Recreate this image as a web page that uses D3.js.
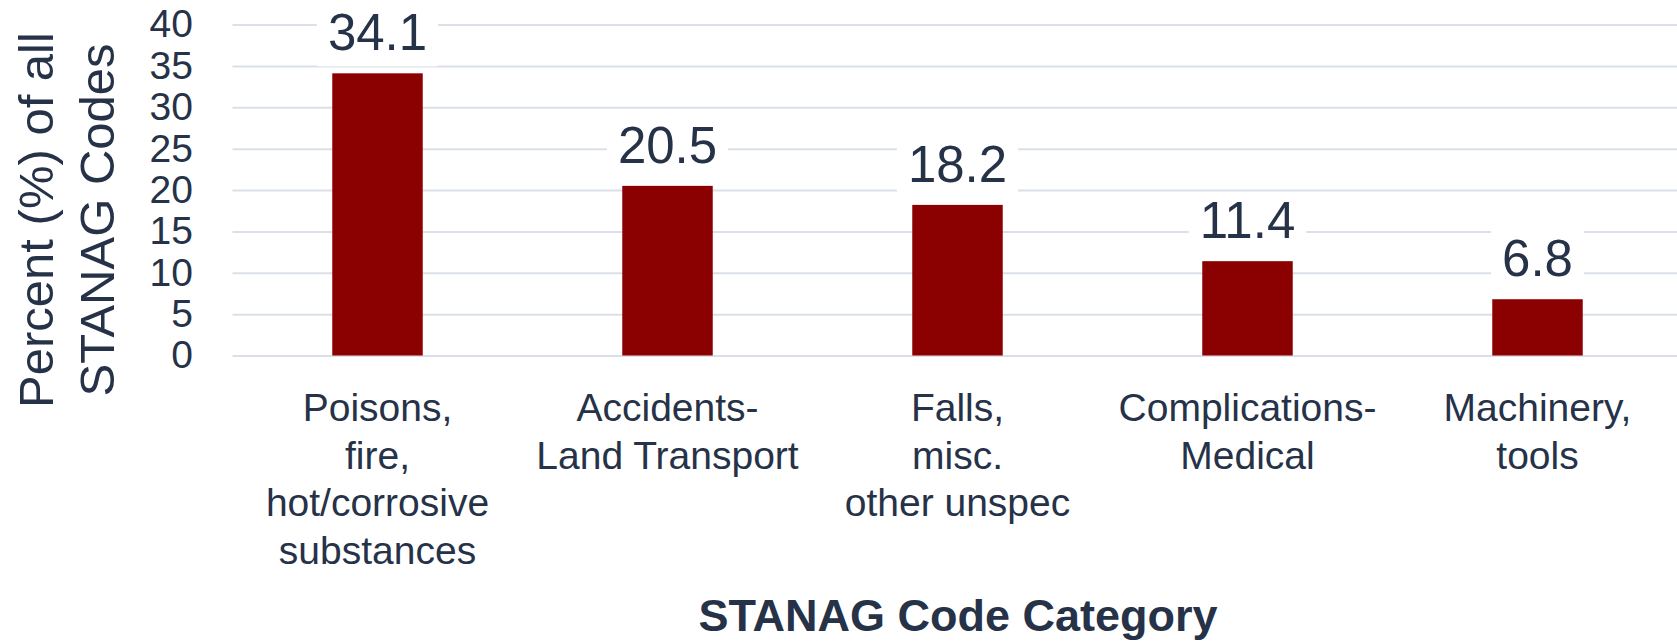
<!DOCTYPE html>
<html>
<head>
<meta charset="utf-8">
<script src="https://cdn.jsdelivr.net/npm/d3@7"></script>
<style>
  html, body { margin: 0; padding: 0; background: #fff; }
  svg { display: block; font-family: "Liberation Sans", Arial, sans-serif; }
</style>
</head>
<body>
<svg id="drawing_region"></svg>
<script>
// data
const categories = [
    "Poisons,\nfire,\nhot/corrosive\nsubstances",
    "Accidents-\nLand Transport",
    "Falls,\nmisc.\nother unspec",
    "Complications-\nMedical",
    "Machinery,\ntools"
];
const values = [34.1, 20.5, 18.2, 11.4, 6.8];
const yTicks = [0, 5, 10, 15, 20, 25, 30, 35, 40];
const xTitle = "STANAG Code Category";
const yTitle = ["Percent (%) of all", "STANAG Codes"];

const data = categories.map((c, i) => ({ label: c, value: values[i] }));

const width = 1677, height = 642;
const textColor = "#263248";
const margin = { left: 232.5, right: 1682.5, top: 24.5, bottom: 355.5 };

const svg = d3.select("#drawing_region")
    .attr("width", width)
    .attr("height", height);

const x = d3.scaleBand()
    .domain(categories)
    .range([margin.left, margin.right])
    .paddingInner(0.688)
    .paddingOuter(0.344);

const y = d3.scaleLinear()
    .domain([0, 40])
    .range([margin.bottom, margin.top]);

// y axis + gridlines
const yAxis = svg.append("g")
    .attr("transform", `translate(${margin.left},0)`)
    .call(d3.axisLeft(y)
        .tickValues(yTicks)
        .tickSizeInner(-(width - margin.left))
        .tickSizeOuter(0)
        .tickPadding(margin.left - 193));
yAxis.select(".domain").remove();
yAxis.selectAll(".tick line")
    .attr("stroke", "#dadfe8")
    .attr("stroke-width", 2);
yAxis.selectAll(".tick text")
    .attr("fill", textColor)
    .attr("font-size", 39)
    .attr("font-family", "Liberation Sans, Arial, sans-serif");

// bars
svg.append("g")
    .selectAll("rect")
    .data(data)
    .join("rect")
    .attr("x", d => x(d.label))
    .attr("y", d => y(d.value))
    .attr("width", x.bandwidth())
    .attr("height", d => y(0) - y(d.value))
    .attr("fill", "#8b0000");

// value labels with white boxes
const lab = svg.append("g")
    .selectAll("g")
    .data(data)
    .join("g")
    .attr("transform", d => `translate(${x(d.label) + x.bandwidth() / 2},${y(d.value) - 23})`);

lab.append("rect").attr("fill", "#fff");
lab.append("text")
    .attr("text-anchor", "middle")
    .attr("font-size", 51)
    .attr("fill", textColor)
    .text(d => d.value.toFixed(1));
lab.each(function () {
    const g = d3.select(this);
    const w = g.select("text").node().getComputedTextLength() + 22;
    g.select("rect")
        .attr("x", -w / 2)
        .attr("y", -46)
        .attr("width", w)
        .attr("height", 62);
});

// category labels
const xAxis = svg.append("g")
    .attr("transform", `translate(0,${margin.bottom})`)
    .call(d3.axisBottom(x).tickSize(0).tickFormat(""));
xAxis.select(".domain").remove();
xAxis.selectAll(".tick text").remove();
xAxis.selectAll(".tick")
    .append("text")
    .attr("text-anchor", "middle")
    .attr("font-size", 39)
    .attr("fill", textColor)
    .selectAll("tspan")
    .data(d => d.split("\n"))
    .join("tspan")
    .attr("x", 0)
    .attr("y", (d, i) => 421 - margin.bottom + i * 47.5)
    .text(d => d);

// axis titles
svg.append("text")
    .attr("x", 958)
    .attr("y", 631)
    .attr("text-anchor", "middle")
    .attr("font-size", 45)
    .attr("font-weight", "bold")
    .attr("fill", textColor)
    .text(xTitle);

svg.append("g")
    .selectAll("text")
    .data(yTitle)
    .join("text")
    .attr("transform", (d, i) => `translate(${53 + i * 61},220) rotate(-90)`)
    .attr("text-anchor", "middle")
    .attr("font-size", 49)
    .attr("fill", textColor)
    .text(d => d);
</script>
</body>
</html>
